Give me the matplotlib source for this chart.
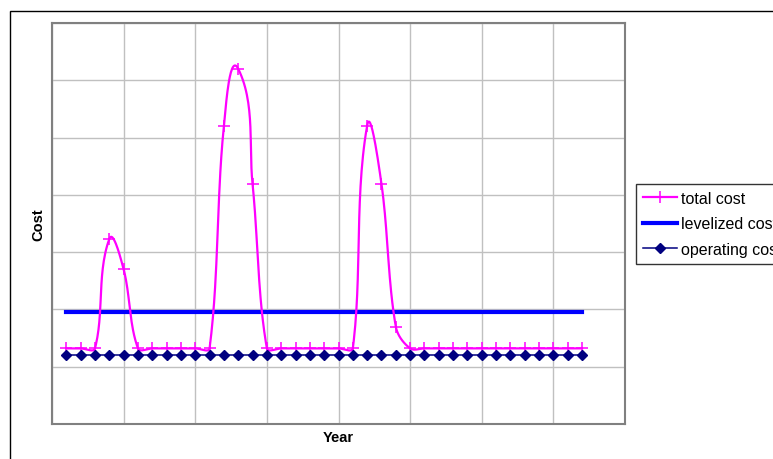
import numpy as np
import matplotlib
matplotlib.use('Agg')
from matplotlib import pyplot as plt
from matplotlib.patches import Rectangle

plt.rcParams['font.family'] = ['Liberation Sans', 'DejaVu Sans']

# one point per year
years = list(range(1, 38))
total_cost = [1.32, 1.32, 1.32, 3.23, 2.70, 1.32, 1.32, 1.32, 1.32, 1.32,
              1.32, 5.20, 6.20, 4.19, 1.32, 1.32, 1.32, 1.32, 1.32, 1.32,
              1.32, 5.21, 4.19, 1.70, 1.32, 1.32, 1.32, 1.32, 1.32, 1.32,
              1.32, 1.32, 1.32, 1.32, 1.32, 1.32, 1.32]
levelized_cost = [1.96] * 37
operating_cost = [1.20] * 37

XMAX, YMAX = 40, 7
AX_W, AX_H = 573, 401  # plot area in pixels


def smooth(x, y, n=30, tension=0.33):
    # smoothed line like the spreadsheet one: bezier, handles sized by
    # the neighbouring segment lengths measured on screen
    kx, ky = AX_W / XMAX, AX_H / YMAX
    p = np.column_stack([np.asarray(x, float) * kx, np.asarray(y, float) * ky])
    m = len(p)
    d = np.zeros_like(p)
    for i in range(m):
        a = p[max(i - 1, 0)]
        b = p[min(i + 1, m - 1)]
        v = b - a
        d[i] = v / np.hypot(*v)
    t = np.linspace(0, 1, n)[:, None]
    out = []
    for i in range(m - 1):
        seg = np.hypot(*(p[i + 1] - p[i]))
        p0, p3 = p[i], p[i + 1]
        p1 = p0 + d[i] * seg * tension
        p2 = p3 - d[i + 1] * seg * tension
        b = (1 - t) ** 3 * p0 + 3 * (1 - t) ** 2 * t * p1 + 3 * (1 - t) * t ** 2 * p2 + t ** 3 * p3
        out.append(b)
    out = np.vstack(out)
    return out[:, 0] / kx, out[:, 1] / ky


fig = plt.figure(figsize=(7.73, 4.60), dpi=100)
ax = fig.add_axes([52 / 773, 1 - 425 / 460, AX_W / 773, AX_H / 460])

sx, sy = smooth(years, total_cost)
ax.plot(sx, sy, color='#ff00ff', lw=1.6, zorder=3)
ax.plot(years, total_cost, ls='none', marker='+', ms=8, mew=1.1, color='#ff00ff', zorder=3)
ax.plot(years, levelized_cost, color='#0000ff', lw=3, zorder=2)
ax.plot(years, operating_cost, color='#000080', lw=1.1, marker='D', ms=5, zorder=4)

# legend handles
h1, = ax.plot([], [], color='#ff00ff', lw=1.6, marker='+', ms=8, mew=1.1)
h2, = ax.plot([], [], color='#0000ff', lw=3)
h3, = ax.plot([], [], color='#000080', lw=1.1, marker='D', ms=5)

ax.set_xlim(0, XMAX)
ax.set_ylim(0, YMAX)
ax.set_xticks(range(0, XMAX + 1, 5))
ax.set_yticks(range(0, YMAX + 1))
ax.grid(True, color='#c0c0c0', lw=1)
ax.set_axisbelow(True)
ax.tick_params(left=False, bottom=False, labelleft=False, labelbottom=False)
for s in ax.spines.values():
    s.set_color('#808080')
    s.set_linewidth(1.5)

ax.set_xlabel('Year', fontsize=10.5, fontweight='bold', labelpad=4)
ax.set_ylabel('Cost', fontsize=10.5, fontweight='bold', labelpad=5)

leg = fig.legend([h1, h2, h3], ['total cost', 'levelized cost', 'operating cost'],
                 loc='upper left', bbox_to_anchor=(636 / 773, 1 - 185 / 460),
                 fontsize=11.5, frameon=True, fancybox=False, handlelength=2.15,
                 handletextpad=0.25, labelspacing=0.66, borderpad=0.42, borderaxespad=0)
leg.get_frame().set_edgecolor('black')
leg.get_frame().set_linewidth(1)

# outer chart border
fig.patches.append(Rectangle((10 / 773, -0.1), 2, 1.1 - 12 / 460, transform=fig.transFigure,
                             fill=False, edgecolor='black', lw=1))

plt.savefig('out.png', dpi=100)
